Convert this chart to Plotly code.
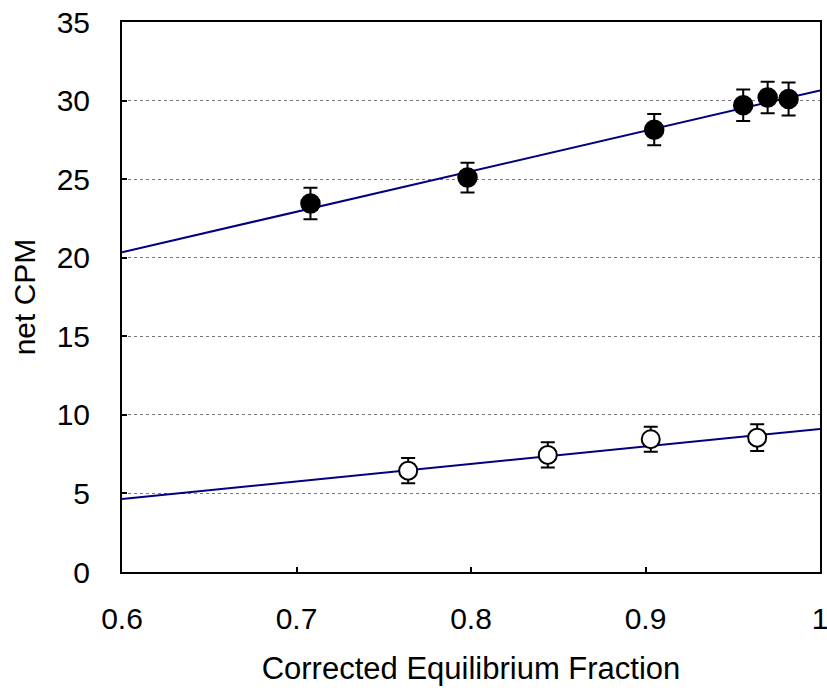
import plotly.graph_objects as go

# Filled series (upper)
x_filled = [0.708, 0.798, 0.905, 0.956, 0.970, 0.982]
y_filled = [23.45, 25.1, 28.15, 29.7, 30.2, 30.1]
err_filled = [1.0, 0.95, 1.0, 1.0, 1.0, 1.05]
fit_filled_x = [0.6, 1.0]
fit_filled_y = [20.35, 30.65]

# Open series (lower)
x_open = [0.764, 0.844, 0.903, 0.964]
y_open = [6.45, 7.45, 8.45, 8.55]
err_open = [0.8, 0.8, 0.8, 0.85]
fit_open_x = [0.6, 1.0]
fit_open_y = [4.65, 9.1]

x_ticks = [0.6, 0.7, 0.8, 0.9, 1.0]
x_tick_labels = ["0.6", "0.7", "0.8", "0.9", "1"]
y_ticks = [0, 5, 10, 15, 20, 25, 30, 35]

FONT = "Liberation Sans, Arial, sans-serif"
fig = go.Figure()

fig.add_trace(go.Scatter(x=fit_filled_x, y=fit_filled_y, mode="lines",
                         line=dict(color="#000080", width=2), showlegend=False))
fig.add_trace(go.Scatter(x=fit_open_x, y=fit_open_y, mode="lines",
                         line=dict(color="#000080", width=2), showlegend=False))

fig.add_trace(go.Scatter(
    x=x_filled, y=y_filled, mode="markers",
    marker=dict(size=19, color="black", line=dict(color="black", width=1.5)),
    error_y=dict(type="data", array=err_filled, color="black", thickness=2, width=7),
    showlegend=False))

fig.add_trace(go.Scatter(
    x=x_open, y=y_open, mode="markers",
    marker=dict(size=18, color="white", line=dict(color="black", width=2)),
    error_y=dict(type="data", array=err_open, color="black", thickness=2, width=7),
    showlegend=False))

fig.update_layout(
    width=827, height=695,
    margin=dict(l=122, r=7, t=22, b=123),
    paper_bgcolor="white", plot_bgcolor="white",
    font=dict(family=FONT, size=30, color="black"),
    xaxis=dict(range=[0.6, 1.0], tickvals=x_ticks, ticktext=x_tick_labels,
               automargin=False, ticklabeloverflow="allow",
               showgrid=False, zeroline=False, showline=True, linecolor="black",
               linewidth=2, mirror=True, ticks="inside", ticklen=5, tickwidth=1.5,
               tickcolor="black", tickfont=dict(size=30), ticklabelstandoff=19,
               title=dict(text="Corrected Equilibrium Fraction", font=dict(size=31), standoff=23)),
    yaxis=dict(range=[0, 35], tickvals=y_ticks,
               automargin=False, ticklabeloverflow="allow",
               showgrid=True, gridcolor="#777777", griddash="dot", gridwidth=1,
               zeroline=False, showline=True, linecolor="black",
               linewidth=2, mirror=True, ticks="inside", ticklen=5, tickwidth=1.5,
               tickcolor="black", tickfont=dict(size=30), ticklabelstandoff=24,
               title=dict(text="net CPM", font=dict(size=30), standoff=12)),
)

fig.write_html("out.html")
